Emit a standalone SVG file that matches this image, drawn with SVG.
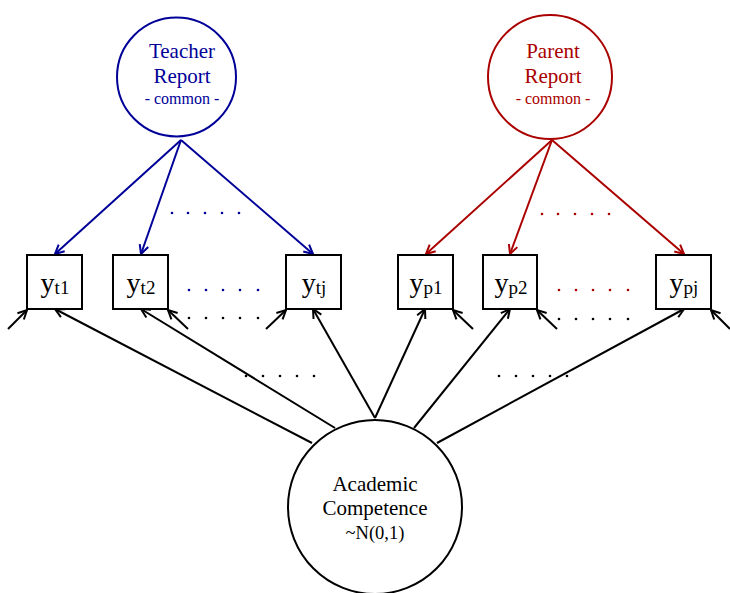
<svg xmlns="http://www.w3.org/2000/svg" width="730" height="593" viewBox="0 0 730 593">
<defs>
<marker id="ak" markerUnits="userSpaceOnUse" markerWidth="14" markerHeight="12" refX="10" refY="5" orient="auto" overflow="visible"><path d="M1,0.5 L10,5 L1,9.5" fill="none" stroke="#000" stroke-width="2"/></marker>
<marker id="ab" markerUnits="userSpaceOnUse" markerWidth="14" markerHeight="12" refX="10" refY="5" orient="auto" overflow="visible"><path d="M1,0.5 L10,5 L1,9.5" fill="none" stroke="#000099" stroke-width="2"/></marker>
<marker id="ar" markerUnits="userSpaceOnUse" markerWidth="14" markerHeight="12" refX="10" refY="5" orient="auto" overflow="visible"><path d="M1,0.5 L10,5 L1,9.5" fill="none" stroke="#aa0000" stroke-width="2"/></marker>
</defs>
<style>
text{font-family:"Liberation Serif","Times New Roman",serif;text-anchor:middle}
.box{fill:#fff;stroke:#000;stroke-width:2}
.lat{fill:#fff;stroke-width:2}
.k{stroke:#000;stroke-width:2;fill:none;marker-end:url(#ak)}
.b{stroke:#000099;stroke-width:2;fill:none;marker-end:url(#ab)}
.r{stroke:#aa0000;stroke-width:2;fill:none;marker-end:url(#ar)}
.yl{font-size:28px}
.sub{font-size:19px}
.big{font-size:21px}
.cm{font-size:16px}
.dk{fill:#000}.db{fill:#000099}.dr{fill:#aa0000}
</style>
<g id="connectors">
<line class="b" x1="181" y1="140" x2="55" y2="254"/>
<line class="b" x1="181" y1="140" x2="141" y2="254"/>
<line class="b" x1="181" y1="140" x2="313" y2="254"/>
<line class="r" x1="552" y1="140" x2="426" y2="254"/>
<line class="r" x1="552" y1="140" x2="510" y2="254"/>
<line class="r" x1="552" y1="140" x2="684" y2="254"/>
<line class="k" x1="312" y1="443" x2="55" y2="309"/>
<line class="k" x1="335" y1="428" x2="141" y2="309"/>
<line class="k" x1="375" y1="418" x2="313" y2="309"/>
<line class="k" x1="375" y1="418" x2="425" y2="309"/>
<line class="k" x1="414" y1="428" x2="510" y2="309"/>
<line class="k" x1="437" y1="443" x2="684" y2="309"/>
<line class="k" x1="8" y1="329" x2="27" y2="310"/>
<line class="k" x1="188" y1="329" x2="168" y2="310"/>
<line class="k" x1="266" y1="329" x2="286" y2="310"/>
<line class="k" x1="473" y1="329" x2="453" y2="310"/>
<line class="k" x1="557" y1="329" x2="537" y2="310"/>
<line class="k" x1="730" y1="329" x2="711" y2="310"/>
</g>
<g id="dots">
<g class="db"><circle cx="172" cy="213" r="1.3"/><circle cx="188" cy="213" r="1.3"/><circle cx="205" cy="213" r="1.3"/><circle cx="222" cy="213" r="1.3"/><circle cx="239" cy="213" r="1.3"/></g>
<g class="db"><circle cx="189" cy="290" r="1.3"/><circle cx="206" cy="290" r="1.3"/><circle cx="223" cy="290" r="1.3"/><circle cx="240" cy="290" r="1.3"/><circle cx="258" cy="290" r="1.3"/></g>
<g class="dk"><circle cx="189" cy="318" r="1.3"/><circle cx="206" cy="318" r="1.3"/><circle cx="223" cy="318" r="1.3"/><circle cx="240" cy="318" r="1.3"/><circle cx="258" cy="318" r="1.3"/></g>
<g class="dr"><circle cx="542" cy="214" r="1.3"/><circle cx="558" cy="214" r="1.3"/><circle cx="575" cy="214" r="1.3"/><circle cx="592" cy="214" r="1.3"/><circle cx="609" cy="214" r="1.3"/></g>
<g class="dr"><circle cx="559" cy="290" r="1.3"/><circle cx="576" cy="290" r="1.3"/><circle cx="593" cy="290" r="1.3"/><circle cx="610" cy="290" r="1.3"/><circle cx="628" cy="290" r="1.3"/></g>
<g class="dk"><circle cx="559" cy="319" r="1.3"/><circle cx="576" cy="319" r="1.3"/><circle cx="593" cy="319" r="1.3"/><circle cx="610" cy="319" r="1.3"/><circle cx="628" cy="319" r="1.3"/></g>
<g class="dk"><circle cx="246" cy="376" r="1.3"/><circle cx="263" cy="376" r="1.3"/><circle cx="280" cy="376" r="1.3"/><circle cx="297" cy="376" r="1.3"/><circle cx="314" cy="376" r="1.3"/></g>
<g class="dk"><circle cx="499" cy="376" r="1.3"/><circle cx="516" cy="376" r="1.3"/><circle cx="533" cy="376" r="1.3"/><circle cx="550" cy="376" r="1.3"/><circle cx="567" cy="376" r="1.3"/></g>
</g>
<g id="teacher">
<circle class="lat" cx="176.5" cy="77" r="59.5" stroke="#000099"/>
<text class="big" x="182" y="58" fill="#000099">Teacher</text>
<text class="big" x="182" y="83" fill="#000099">Report</text>
<text class="cm" x="182" y="104" fill="#000099">- common -</text>
</g>
<g id="parent">
<circle class="lat" cx="550" cy="77" r="62" stroke="#aa0000"/>
<text class="big" x="553" y="58" fill="#aa0000">Parent</text>
<text class="big" x="553" y="83" fill="#aa0000">Report</text>
<text class="cm" x="553" y="104" fill="#aa0000">- common -</text>
</g>
<g id="academic">
<circle class="lat" cx="375" cy="507" r="87" stroke="#000"/>
<text class="big" x="375" y="491">Academic</text>
<text class="big" x="375" y="515">Competence</text>
<text x="375" y="539" font-size="18.5">~N(0,1)</text>
</g>
<g id="yt1"><rect class="box" x="27" y="255" width="55" height="54"/><text class="yl" x="55" y="292">y<tspan class="sub" dy="2">t1</tspan></text></g>
<g id="yt2"><rect class="box" x="113" y="255" width="55" height="54"/><text class="yl" x="141" y="292">y<tspan class="sub" dy="2">t2</tspan></text></g>
<g id="ytj"><rect class="box" x="286" y="255" width="55" height="54"/><text class="yl" x="314" y="292">y<tspan class="sub" dy="2">tj</tspan></text></g>
<g id="yp1"><rect class="box" x="398" y="255" width="55" height="54"/><text class="yl" x="426" y="292">y<tspan class="sub" dy="2">p1</tspan></text></g>
<g id="yp2"><rect class="box" x="483" y="255" width="54" height="54"/><text class="yl" x="511" y="292">y<tspan class="sub" dy="2">p2</tspan></text></g>
<g id="ypj"><rect class="box" x="656" y="255" width="55" height="54"/><text class="yl" x="684" y="292">y<tspan class="sub" dy="2">pj</tspan></text></g>
</svg>
